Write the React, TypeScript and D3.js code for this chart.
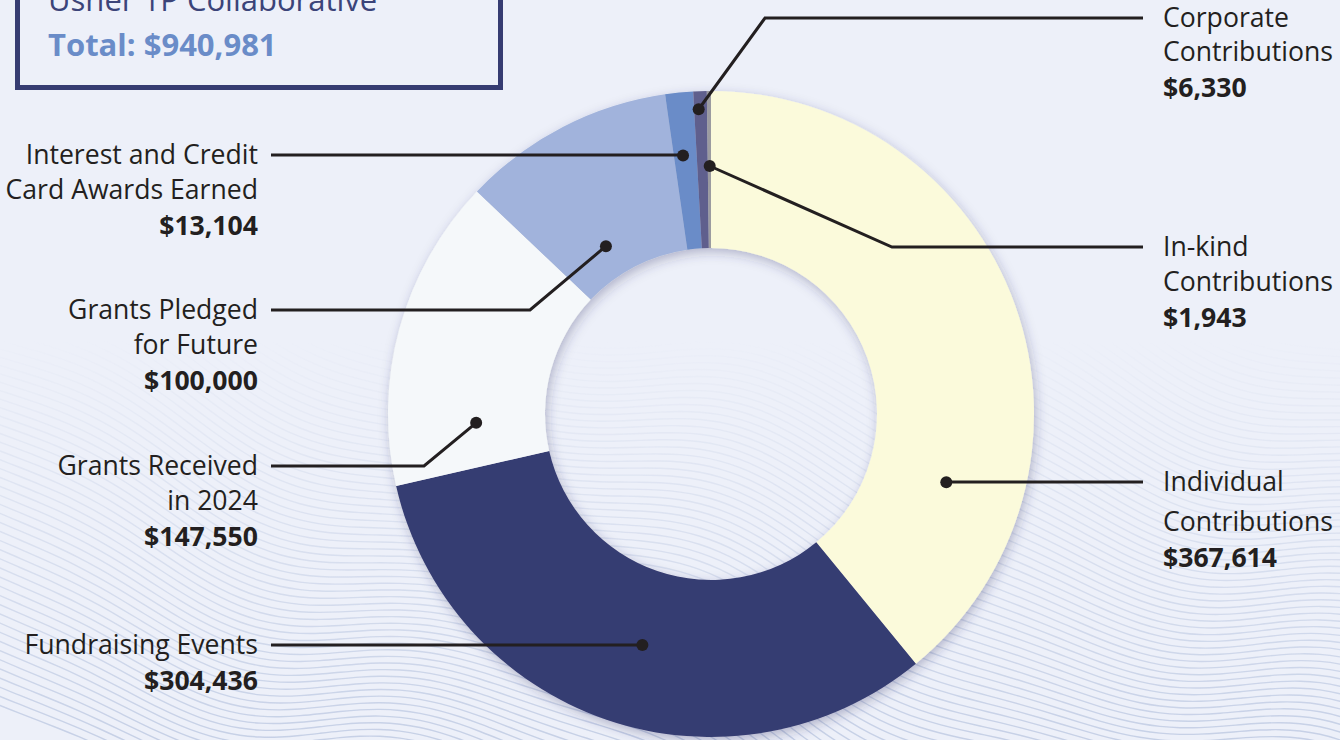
import React from "react";
import * as d3 from "d3";

const categories = [
  "Individual Contributions",
  "Fundraising Events",
  "Grants Received in 2024",
  "Grants Pledged for Future",
  "Interest and Credit Card Awards Earned",
  "Corporate Contributions",
  "In-kind Contributions",
];
const values = [367614, 304436, 147550, 100000, 13104, 6330, 1943];
const colors = ["#FBFADB", "#363C72", "#F5F8FA", "#A1B3DC", "#6A8CC8", "#5F5E8D", "#9B9BA0"];
const labelLines = [
  ["Individual", "Contributions"],
  ["Fundraising Events"],
  ["Grants Received", "in 2024"],
  ["Grants Pledged", "for Future"],
  ["Interest and Credit", "Card Awards Earned"],
  ["Corporate", "Contributions"],
  ["In-kind", "Contributions"],
];
const titleText = "Usher 1P Collaborative";
const totalText = "Total: $940,981";

// annotation layout: dot position within slice (fraction t, radius r), label line y, elbow
const leaders = [
  { t: 0.755, r: 245, side: "right", y: 482, elbowX: null as number | null, gap: 40 },
  { t: 0.48, r: 241, side: "left", y: 645, elbowX: null as number | null, gap: 35 },
  { t: 0.19, r: 235, side: "left", y: 466, elbowX: 424, gap: 35 },
  { t: 0.376, r: 198, side: "left", y: 310, elbowX: 530, gap: 35 },
  { t: 0.4, r: 260, side: "left", y: 155, elbowX: null as number | null, gap: 35 },
  { t: 0.35, r: 305, side: "right", y: 18, elbowX: 765, gap: 34 },
  { t: 0.6, r: 248, side: "right", y: 247, elbowX: 892, gap: 35 },
];

const W = 1340;
const H = 740;
const cx = 711;
const cy = 414;
const R = 323;
const r0 = 166;
const leftEnd = 271;
const rightEnd = 1143;
const textColor = "#231F20";
const fmt = d3.format("$,");

export default function App() {
  const data = categories.map((c, i) => ({ c, v: values[i], i }));
  const pie = d3
    .pie<any>()
    .sort(null)
    .value((d: any) => d.v)
    .startAngle(0)
    .endAngle(2 * Math.PI);
  const arcs = pie(data);
  const arc = d3.arc<any>().innerRadius(r0).outerRadius(R);

  // decorative wavy background
  const waves: string[] = [];
  const line = d3.line<[number, number]>().curve(d3.curveBasis);
  for (let k = 0; k < 150; k++) {
    const base = -500 + k * 8;
    const pts: [number, number][] = [];
    for (let x = -20; x <= W + 20; x += 20) {
      const y = base + 0.32 * x + 30 * Math.sin((x / 680) * 2 * Math.PI + k * 0.045) + 8 * Math.sin((x / 300) * 2 * Math.PI + k * 0.02);
      pts.push([x, y]);
    }
    waves.push(line(pts) as string);
  }

  return (
    <>
      <style>{`body{margin:0;background:#EDF0F9}`}</style>
      <svg width={W} height={H} style={{ display: "block", background: "#EDF0F9" }} fontFamily="'Open Sans', sans-serif">
        <defs>
          <linearGradient id="fade" gradientUnits="userSpaceOnUse" x1={0} y1={340} x2={0} y2={740}>
            <stop offset="0" stopColor="#fff" stopOpacity="0" />
            <stop offset="1" stopColor="#fff" stopOpacity="1" />
          </linearGradient>
          <mask id="waveMask">
            <rect x="0" y="0" width={W} height={H} fill="url(#fade)" />
          </mask>
          <filter id="shadow" x="-20%" y="-20%" width="140%" height="140%">
            <feDropShadow dx="2" dy="4" stdDeviation="6" floodColor="#2A3060" floodOpacity="0.3" />
          </filter>
        </defs>
        <rect width={W} height={H} fill="#EDF0F9" />
        <g mask="url(#waveMask)" fill="none" stroke="#C6D0E6" strokeWidth={1.4}>
          {waves.map((d, i) => (
            <path key={i} d={d} />
          ))}
        </g>

        {/* title box */}
        <rect x={17.5} y={-100} width={483} height={187.5} fill="none" stroke="#363C72" strokeWidth={5} />
        <text x={48} y={11} fontSize={31} fill="#3B4479">
          {titleText}
        </text>
        <text x={48} y={56} fontSize={31} fontWeight={700} fill="#6A8CC8">
          {totalText}
        </text>

        {/* donut */}
        <g transform={`translate(${cx},${cy})`} filter="url(#shadow)">
          {arcs.map((a: any, i: number) => (
            <path key={i} d={arc(a) as string} fill={colors[i]} />
          ))}
        </g>

        {/* leaders and labels */}
        {arcs.map((a: any, i: number) => {
          const L = leaders[i];
          const ang = a.startAngle + (a.endAngle - a.startAngle) * L.t;
          const dx = cx + L.r * Math.sin(ang);
          const dy = cy - L.r * Math.cos(ang);
          const endX = L.side === "left" ? leftEnd : rightEnd;
          const ex = L.elbowX == null ? dx : L.elbowX;
          const path = `M${dx},${dy}L${ex},${L.y}L${endX},${L.y}`;
          const tx = L.side === "left" ? 258 : 1163;
          const anchor = L.side === "left" ? "end" : "start";
          const lines = labelLines[i];
          const b0 = L.y + 9;
          return (
            <g key={i}>
              <path d={path} fill="none" stroke={textColor} strokeWidth={3} />
              <circle cx={dx} cy={dy} r={6} fill={textColor} />
              <text x={tx} fontSize={26.6} fill={textColor} textAnchor={anchor}>
                {lines.map((s, j) => (
                  <tspan key={j} x={tx} y={b0 + j * L.gap}>
                    {s}
                  </tspan>
                ))}
                <tspan x={tx} y={b0 + (lines.length - 1) * L.gap + 36} fontWeight={700}>
                  {fmt(values[i])}
                </tspan>
              </text>
            </g>
          );
        })}
      </svg>
    </>
  );
}
